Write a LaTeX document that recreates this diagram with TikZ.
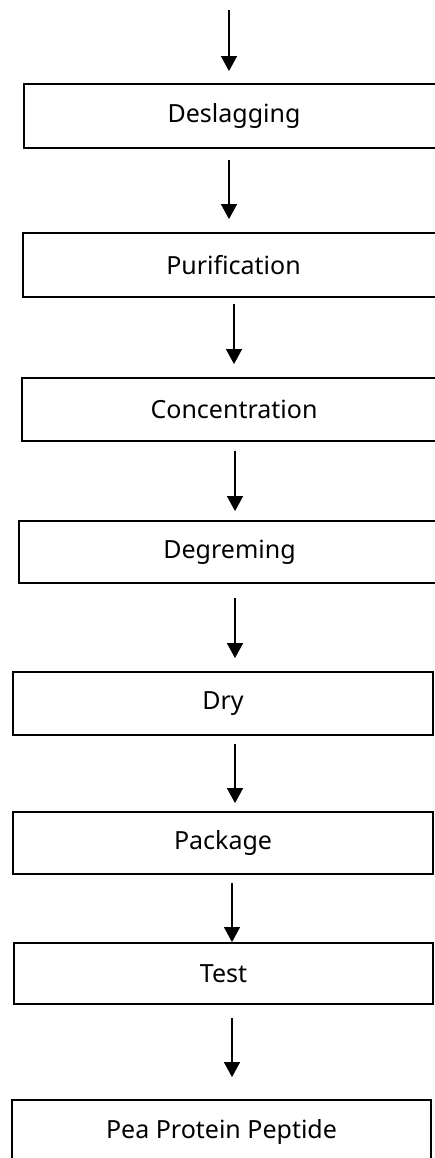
\documentclass[tikz,border=0pt]{standalone}
\usepackage{fontspec}
\setmainfont{Noto Sans}
\usetikzlibrary{arrows.meta}
\tikzset{
  stepbox/.style={draw=black, line width=1.8pt, rectangle, inner sep=0pt,
    minimum height=63pt, font=\fontsize{25}{30}\selectfont},
  flow/.style={line width=1.3pt, -{Triangle[width=16pt,length=15pt]}}
}
\begin{document}
\begin{tikzpicture}[x=1pt,y=-1pt]
\useasboundingbox (0,0) rectangle (434,1158);
\node[stepbox, minimum width=420pt, minimum height=64pt] (b1) at (234,116) {Deslagging};
\node[stepbox, minimum width=421pt, minimum height=64pt] (b2) at (233.5,265) {Purification};
\node[stepbox, minimum width=424pt] (b3) at (234,409.5) {Concentration};
\node[stepbox, minimum width=421pt, minimum height=62pt] (b4) at (229.5,552) {Degreming};
\node[stepbox, minimum width=420pt] (b5) at (223,703.5) {Dry};
\node[stepbox, minimum width=420pt, minimum height=62pt] (b6) at (223,843) {Package};
\node[stepbox, minimum width=419pt, minimum height=61pt] (b7) at (223.5,973.5) {Test};
\node[stepbox, minimum width=419pt] (b8) at (221.5,1131.5) {Pea Protein Peptide};
\coordinate (start) at (229,10);
\draw[flow] (start) -- ([yshift=12pt]b1.north -| start);
\draw[flow] ([xshift=-5pt,yshift=-11pt]b1.south) -- ([xshift=-4.5pt,yshift=13pt]b2.north);
\draw[flow] ([xshift=0.5pt,yshift=-6pt]b2.south) -- ([xshift=0pt,yshift=13pt]b3.north);
\draw[flow] ([xshift=1pt,yshift=-9pt]b3.south) -- ([xshift=5.5pt,yshift=9pt]b4.north);
\draw[flow] ([xshift=5.5pt,yshift=-14pt]b4.south) -- ([xshift=12pt,yshift=13pt]b5.north);
\draw[flow] ([xshift=12pt,yshift=-8pt]b5.south) -- ([xshift=12pt,yshift=8pt]b6.north);
\draw[flow] ([xshift=9pt,yshift=-8pt]b6.south) -- ([xshift=8.5pt,yshift=0pt]b7.north);
\draw[flow] ([xshift=8.5pt,yshift=-13pt]b7.south) -- ([xshift=10.5pt,yshift=22pt]b8.north);
\end{tikzpicture}
\end{document}
